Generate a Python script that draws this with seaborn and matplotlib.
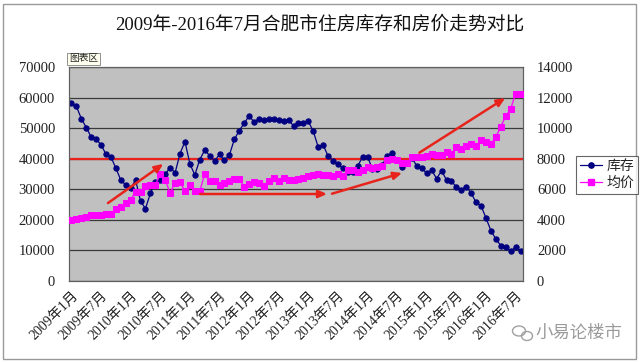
import numpy as np
import pandas as pd
import matplotlib
matplotlib.use("Agg")
import matplotlib.pyplot as plt
import matplotlib.transforms as mtransforms
from matplotlib.patches import Rectangle, FancyArrowPatch, Ellipse
from matplotlib.lines import Line2D
import seaborn as sns

title = "2009年-2016年7月合肥市住房库存和房价走势对比"
series_names = ["库存", "均价"]

# inventory (left axis) Jan 2009 - Aug 2016, monthly
stock = [58200, 57100, 53100, 50200, 47100, 46300, 44600, 41400, 40600, 36900,
         33000, 31400, 30400, 33000, 26100, 23700, 28700, 32500, 33100, 35000,
         37100, 35400, 41700, 45600, 38300, 34700, 39700, 42800, 41000, 39300,
         41400, 39500, 41200, 46300, 49200, 51600, 54000, 52000, 53000, 52700,
         53000, 53100, 52700, 52200, 52500, 50800, 51800, 51800, 52200, 49000,
         43800, 44500, 40900, 39400, 38200, 36800, 35600, 35600, 37600, 40600,
         40700, 36500, 36600, 38000, 41000, 42000, 39600, 37300, 38500, 40300,
         37500, 36900, 35200, 36200, 33500, 36100, 33000, 32600, 30800, 29800,
         30900, 28700, 25700, 24600, 20600, 16500, 13700, 11600, 11100, 9700,
         11100, 9900]

# average price (right axis)
price = [4020, 4080, 4150, 4210, 4300, 4330, 4350, 4370, 4400, 4690,
         4850, 5130, 5320, 5850, 5850, 6220, 6270, 6290, 7000, 6600,
         5750, 6430, 6450, 5890, 6260, 5920, 5870, 7000, 6510, 6510,
         6270, 6390, 6550, 6690, 6650, 6160, 6350, 6490, 6420, 6240,
         6540, 6720, 6560, 6710, 6600, 6610, 6690, 6750, 6900, 6920,
         7030, 6940, 6960, 6900, 7030, 6840, 7270, 7270, 7100, 7270,
         7470, 7380, 7490, 7530, 7900, 7970, 7920, 7750, 7730, 8120,
         8120, 8120, 8190, 8290, 8230, 8250, 8470, 8280, 8770, 8630,
         8840, 8980, 8860, 9210, 9100, 8970, 9430, 10090, 10800, 11250,
         12250, 12250]

tick_labels = ["2009年1月", "2009年7月", "2010年1月", "2010年7月", "2011年1月",
               "2011年7月", "2012年1月", "2012年7月", "2013年1月", "2013年7月",
               "2014年1月", "2014年7月", "2015年1月", "2015年7月", "2016年1月",
               "2016年7月"]

left_ticks = [0, 10000, 20000, 30000, 40000, 50000, 60000, 70000]
right_ticks = [0, 2000, 4000, 6000, 8000, 10000, 12000, 14000]
ref_level = 40000

assert len(stock) == len(price) == 92

df = pd.DataFrame({"idx": np.arange(len(stock)), "stock": stock, "price": price})

sns.set_style("white")
plt.rcParams["font.family"] = ["Liberation Serif", "Noto Sans CJK SC"]

fig = plt.figure(figsize=(6.4, 3.62), dpi=100)
fig.patch.set_facecolor("white")
ax = fig.add_axes([69/640, 1-281/362, (523-69)/640, (281-67)/362])
ax.set_facecolor("#C0C0C0")

ax.set_ylim(0, 70000)
ax.set_xlim(-0.5, len(stock) - 0.5)
ax.set_yticks(left_ticks)
ax.yaxis.grid(True, color="#3a3a3a", linewidth=0.9)
ax.set_axisbelow(True)

ax.axhline(ref_level, color="#E8231C", linewidth=1.6, zorder=2)

sns.lineplot(data=df, x="idx", y="stock", ax=ax, color="#000080", marker="o",
             markersize=3.8, markeredgecolor="#000080", linewidth=0.9, zorder=4)

ax2 = ax.twinx()
sns.lineplot(data=df, x="idx", y="price", ax=ax2, color="#FF00FF", marker="s",
             markersize=4.1, markeredgecolor="#FF00FF", linewidth=0.9, zorder=3)
ax2.set_ylim(0, 14000)
ax2.set_yticks(right_ticks)
ax2.set_xlim(ax.get_xlim())

for a in (ax, ax2):
    a.set_xlabel("")
    a.set_ylabel("")
    for s in a.spines.values():
        s.set_color("#606060")
        s.set_linewidth(0.8)

ax.tick_params(axis="y", length=0, labelsize=10.5, pad=10, colors="#222222")
ax2.tick_params(axis="y", length=0, labelsize=10.5, pad=10, colors="#222222")
ax2.set_yticklabels([str(t) for t in right_ticks])
ax.set_yticklabels([str(t) for t in left_ticks])

label_pos = np.arange(0, len(stock), 6)
ax.set_xticks(label_pos)
ax.set_xticklabels(tick_labels, rotation=45, ha="right", va="top",
                   rotation_mode="anchor", fontsize=10, color="#222222")
offset = mtransforms.ScaledTranslation(-12/100, -13/100, fig.dpi_scale_trans)
for lab in ax.get_xticklabels():
    lab.set_transform(lab.get_transform() + offset)
ax.set_xticks(np.arange(-0.5, len(stock), 6), minor=True)
ax.tick_params(axis="x", which="major", length=0, pad=6)
ax.tick_params(axis="x", which="minor", length=4, direction="in", color="#606060")
ax2.tick_params(axis="x", length=0)

# red trend arrows (annotations)
arrows = [((7.4, 25500), (18.6, 38300)),
          ((26.1, 28460), (51.8, 28460)),
          ((52.8, 28560), (67.0, 35330)),
          ((70.5, 41970), (87.9, 59860))]
for (x0, y0), (x1, y1) in arrows:
    ax2.add_patch(FancyArrowPatch((x0, y0 / 5), (x1, y1 / 5),
                                  arrowstyle="-|>,head_length=5,head_width=2.2",
                                  color="#E8231C", linewidth=1.8, zorder=6,
                                  shrinkA=0, shrinkB=0))

fig.suptitle(title, x=0.5, y=0.955, fontsize=13.5, color="#111111")

handles = [Line2D([], [], color="#000080", marker="o", markersize=3.8, linewidth=0.9),
           Line2D([], [], color="#FF00FF", marker="s", markersize=4.1, linewidth=0.9)]
leg = fig.legend(handles, series_names, loc="center left",
                 bbox_to_anchor=(576/640, 1-175/362), fontsize=10,
                 frameon=True, fancybox=False, edgecolor="#404040",
                 handlelength=1.6, handletextpad=0.3, borderpad=0.3,
                 labelspacing=0.3, borderaxespad=0)
leg.get_frame().set_linewidth(0.8)

fig.text(69/640, 1-59/362, "图表区", fontsize=7, ha="left", va="center",
         bbox=dict(boxstyle="square,pad=0.2", facecolor="#FFFFF0", edgecolor="#808080", linewidth=0.6))

# watermark with a simple chat-bubble icon
fig.add_artist(Ellipse((519/640, 1-331/362), 13/640, 10/362, transform=fig.transFigure,
                       fill=False, edgecolor="#a0a0a0", linewidth=1))
fig.add_artist(Ellipse((527/640, 1-336/362), 11/640, 9/362, transform=fig.transFigure,
                       fill=False, edgecolor="#a0a0a0", linewidth=1))
fig.text(622/640, 1-334/362, "小易论楼市", fontsize=12.5, ha="right", va="center",
         color="#9a9a9a")

fig.add_artist(Rectangle((3/640, 3/362), 633/640, 355/362, transform=fig.transFigure,
                         fill=False, edgecolor="#9a9a9a", linewidth=1))

fig.savefig("out.png", dpi=100)
